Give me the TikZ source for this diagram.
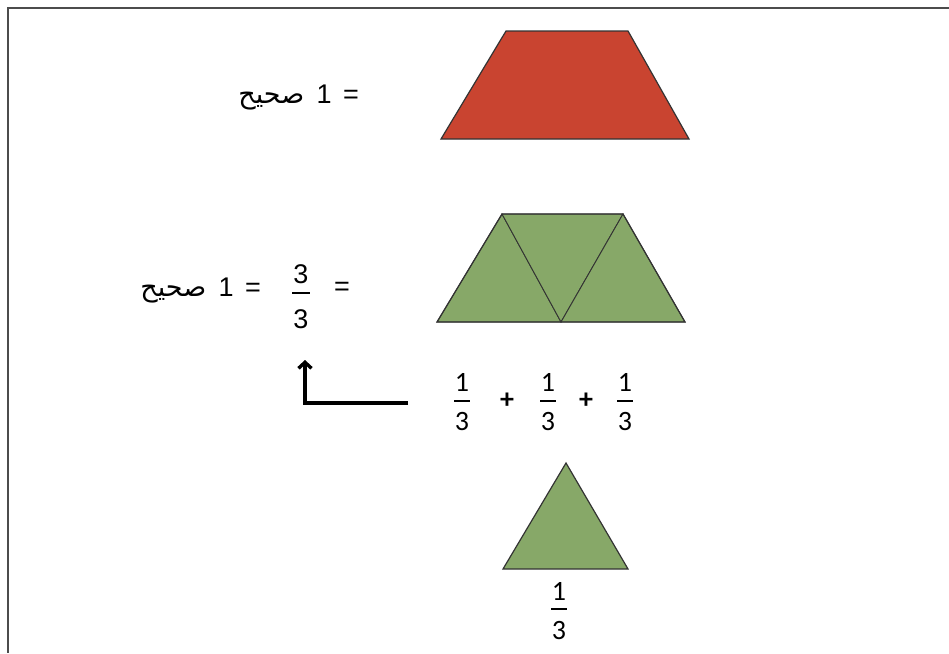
\documentclass[tikz,border=0pt]{standalone}
\usepackage{fontspec}
\setmainfont{Liberation Sans}
\newfontfamily\arabicfont[Script=Arabic]{DejaVu Sans}
\newfontfamily\fracfont{Carlito}
\TeXXeTstate=1
\usetikzlibrary{arrows.meta,positioning}
\definecolor{wholered}{RGB}{201,68,48}
\definecolor{thirdgreen}{RGB}{135,168,104}
\tikzset{
 lbl/.style={inner sep=0pt,font=\fontsize{27}{31}\selectfont},
 arab/.style={inner sep=0pt,font=\arabicfont\fontsize{27}{31}\selectfont},
 frc/.style={inner sep=0pt,font=\fracfont\fontsize{28}{32}\selectfont},
 fracbar/.style={line width=2.4pt},
 piece/.style={fill=thirdgreen,draw=black!80,line width=.9pt},
 elbow/.style={line width=3.4pt,-{Straight Barb[length=6pt,width=13pt]}},
}
\begin{document}
\begin{tikzpicture}[x=1pt,y=-1pt]
\useasboundingbox (0,0) rectangle (949,653);
\fill[white] (0,0) rectangle (949,653);
\draw[line width=2pt,black!70] (949,8) -- (8,8) -- (8,653);
% the whole
\filldraw[fill=wholered,draw=black!80,line width=1.2pt] (441,139) -- (506,31) -- (628,31) -- (689,139) -- cycle;
\node[lbl] (eqa) at (351,97) {=};
\node[lbl,base left=11pt of eqa] (onea) {1};
\node[arab,base left=12pt of onea] (wholea) {\beginR صحيح\endR};
% three thirds
\coordinate (tl) at (437,322);
\coordinate (tm) at (502,214);
\coordinate (tn) at (623,214);
\coordinate (tr) at (685,322);
\coordinate (bm) at (561,322);
\filldraw[piece] (tl) -- (tm) -- (bm) -- cycle;
\filldraw[piece] (tm) -- (tn) -- (bm) -- cycle;
\filldraw[piece] (tn) -- (tr) -- (bm) -- cycle;
\draw[black!80,line width=1.2pt] (tl) -- (tm) -- (tn) -- (tr) -- cycle;
\node[lbl] (eqb) at (253,290) {=};
\node[lbl,base left=11pt of eqb] (oneb) {1};
\node[arab,base left=12pt of oneb] (wholeb) {\beginR صحيح\endR};
\node[lbl] (threen) at (301,274) {3};
\node[lbl] (threed) at (301,319) {3};
\draw[fracbar] (292,293) -- (310,293);
\node[lbl] (eqc) at (342,289) {=};
% one third each
\foreach \nm/\fx/\fn/\fb/\fd in {fa/462/382/401/422,fb/548/382/401/422,fc/625/382/401/422,fd/559/591/609/630}{
 \node[frc] (\nm-num) at (\fx,\fn) {1};
 \node[frc] (\nm-den) at (\fx,\fd) {3};
 \draw[fracbar] (\fx-8,\fb) -- (\fx+8,\fb);
}
\node[frc,font=\fracfont\bfseries\fontsize{28}{32}\selectfont] (plusa) at (507,401) {+};
\node[frc,font=\fracfont\bfseries\fontsize{28}{32}\selectfont] (plusb) at (586,401) {+};
\coordinate (tail) at (408,403);
\coordinate (head) at (305,360);
\draw[elbow] (tail) -| (head);
\filldraw[piece,line width=1.2pt] (566,463) -- (628,569) -- (503,569) -- cycle;
\end{tikzpicture}
\end{document}
